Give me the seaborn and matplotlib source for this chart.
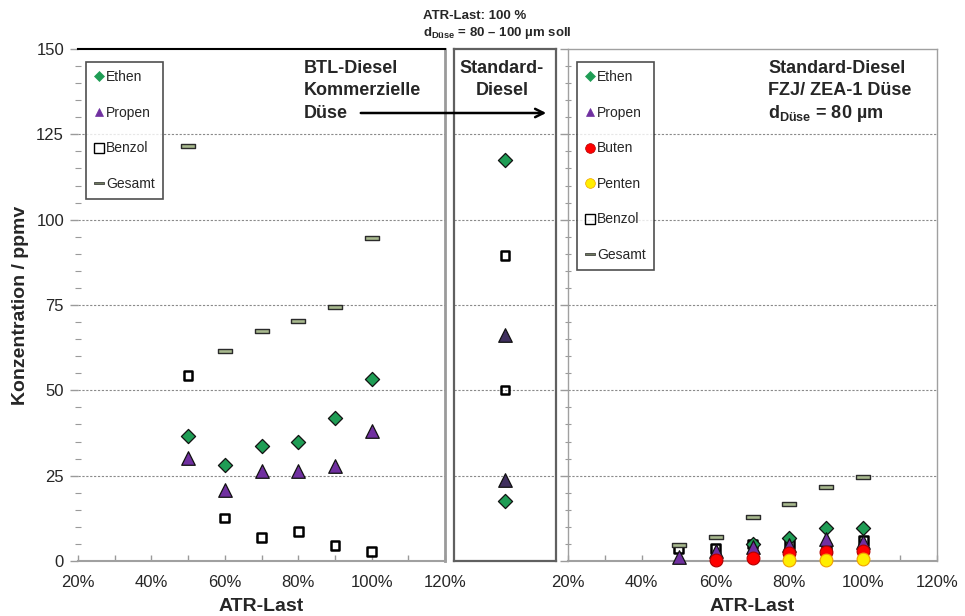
import numpy as np
import pandas as pd
import matplotlib
matplotlib.use("Agg")
import matplotlib.pyplot as plt
import seaborn as sns
from matplotlib.path import Path
from matplotlib.lines import Line2D
from matplotlib.ticker import MultipleLocator, FuncFormatter

sns.set_style("white")
plt.rcParams["font.family"] = ["Liberation Sans", "DejaVu Sans"]
plt.rcParams["mathtext.fontset"] = "custom"
plt.rcParams["mathtext.rm"] = "Liberation Sans"
plt.rcParams["mathtext.bf"] = "Liberation Sans:bold"

# ATR load steps (%)
load = [50, 60, 70, 80, 90, 100]

# BTL diesel, commercial nozzle
btl_ethen = [36.7, 28.0, 33.6, 34.9, 41.9, 53.4]
btl_propen = [30.2, 20.9, 26.5, 26.5, 27.7, 38.0]
btl_benzol = [54.3, 12.6, 6.9, 8.7, 4.5, 2.8]
btl_gesamt = [121.5, 61.5, 67.4, 70.3, 74.5, 94.7]

# Standard diesel at 100 % load, nozzle 80-100 um
std_load = [100, 100]
std_ethen = [117.4, 17.7]
std_propen = [66.2, 23.8]
std_benzol = [89.6, 50.1]

# Standard diesel, FZJ/ZEA-1 nozzle 80 um
fzj_ethen = [np.nan, np.nan, 5.1, 6.8, 9.6, 9.6]
fzj_propen = [1.2, 2.8, 4.1, 4.6, 6.5, 5.5]
fzj_buten = [np.nan, 0.3, 1.0, 2.3, 2.6, 2.9]
fzj_penten = [np.nan, np.nan, np.nan, 0.2, 0.2, 0.5]
fzj_benzol = [3.6, 3.6, 5.0, 5.0, 3.6, 6.0]
fzj_gesamt = [4.8, 7.0, 13.0, 16.7, 21.6, 24.5]

# flat bar marker for the total
bar_marker = Path([(-1, -0.28), (1, -0.28), (1, 0.28), (-1, 0.28), (-1, -0.28)],
                  [Path.MOVETO, Path.LINETO, Path.LINETO, Path.LINETO, Path.CLOSEPOLY])

GREEN = "#1f9d55"
PURPLE = "#7030a0"
STYLE = {
    "Ethen": dict(marker="D", color=GREEN, edgecolor="#111111", s=52, linewidth=0.9),
    "Propen": dict(marker="^", color=PURPLE, edgecolor="#111111", s=95, linewidth=0.9),
    "Buten": dict(marker="o", color="#ff0000", edgecolor="#b00000", s=85, linewidth=0.8),
    "Penten": dict(marker="o", color="#ffee00", edgecolor="#f0a000", s=85, linewidth=0.8),
    "Benzol": dict(marker="s", color="none", edgecolor="#000000", s=40, linewidth=1.8),
    "Gesamt": dict(marker=bar_marker, color="#a8b98e", edgecolor="#2b2b2b", s=105, linewidth=1.0),
}

W, H = 965, 616
fig = plt.figure(figsize=(W / 100, H / 100), dpi=100)


def axes_px(x0, x1, y0, y1):
    return fig.add_axes([x0 / W, 1 - y1 / H, (x1 - x0) / W, (y1 - y0) / H])


ax_l = axes_px(78, 445, 49, 561)
ax_m = axes_px(454, 556, 49, 561)
ax_r = axes_px(568, 937, 49, 561)

GRID = dict(color="#8a8a8a", linewidth=0.8, linestyle=(0, (2, 1.5)))


def draw(ax, x, series, order, styles):
    for name in order:
        st = dict(styles[name])
        col = st.pop("color")
        df = pd.DataFrame({"ATR-Last": x, "ppmv": series[name]}).dropna()
        sns.scatterplot(data=df, x="ATR-Last", y="ppmv", ax=ax, facecolor=col,
                        clip_on=False, zorder=5, legend=False, **st)


def setup(ax, ylabels):
    ax.set_ylim(0, 150)
    ax.set_xlim(20, 120)
    ax.yaxis.set_major_locator(MultipleLocator(25))
    ax.yaxis.set_minor_locator(MultipleLocator(5))
    ax.xaxis.set_major_locator(MultipleLocator(20))
    ax.xaxis.set_minor_locator(MultipleLocator(10))
    ax.xaxis.set_major_formatter(FuncFormatter(lambda v, p: f"{v:.0f}%"))
    ax.tick_params(axis="x", which="both", direction="in", length=4, width=1,
                   color="#9a9a9a", labelsize=12, pad=10, bottom=True)
    ax.tick_params(axis="y", which="major", direction="out", length=6, width=1,
                   color="#9a9a9a", labelsize=12, pad=4, left=True, labelleft=ylabels)
    ax.tick_params(axis="y", which="minor", direction="inout", length=4, width=0.8,
                   color="#9a9a9a", left=True)
    for v in [25, 50, 75, 100, 125]:
        ax.axhline(v, zorder=0, **GRID)
    ax.set_xlabel("ATR-Last", fontsize=14, fontweight="bold", labelpad=6)
    ax.set_ylabel("")


# left: BTL diesel
setup(ax_l, True)
draw(ax_l, load, {"Ethen": btl_ethen, "Propen": btl_propen, "Benzol": btl_benzol,
                  "Gesamt": btl_gesamt}, ["Benzol", "Ethen", "Propen", "Gesamt"], STYLE)
ax_l.spines["left"].set_visible(False)
ax_l.spines["top"].set_color("#000000")
ax_l.spines["top"].set_linewidth(1.5)
ax_l.spines["right"].set_color("#9a9a9a")
ax_l.spines["right"].set_linewidth(2)
ax_l.spines["bottom"].set_color("#a0a0a0")
ax_l.spines["bottom"].set_linewidth(1.5)
ax_l.set_ylabel("Konzentration / ppmv", fontsize=14, fontweight="bold", labelpad=5)

# middle: standard diesel reference points
ax_m.set_ylim(0, 150)
ax_m.set_xlim(86, 114)
for v in [25, 50, 75, 100, 125]:
    ax_m.axhline(v, zorder=0, **GRID)
mid_styles = dict(STYLE)
mid_styles["Propen"] = dict(STYLE["Propen"], color="#3f2f5e")
draw(ax_m, std_load, {"Ethen": std_ethen, "Propen": std_propen, "Benzol": std_benzol},
     ["Benzol", "Ethen", "Propen"], mid_styles)
ax_m.set_xticks([])
ax_m.set_yticks([])
ax_m.set_xlabel("")
ax_m.set_ylabel("")
for sp in ax_m.spines.values():
    sp.set_color("#606060")
    sp.set_linewidth(1.6)

# right: FZJ nozzle
setup(ax_r, False)
draw(ax_r, load, {"Ethen": fzj_ethen, "Propen": fzj_propen, "Buten": fzj_buten,
                  "Penten": fzj_penten, "Benzol": fzj_benzol, "Gesamt": fzj_gesamt},
     ["Benzol", "Ethen", "Propen", "Buten", "Penten", "Gesamt"], STYLE)
for name, sp in ax_r.spines.items():
    sp.set_color("#a0a0a0")
    sp.set_linewidth(1.5 if name == "bottom" else 1.0)


def legend_handles(names):
    hs = []
    for n in names:
        st = STYLE[n]
        ms = {"Ethen": 5, "Propen": 6, "Buten": 7, "Penten": 7, "Benzol": 6.5, "Gesamt": 7}[n]
        hs.append(Line2D([], [], linestyle="none", marker=st["marker"], markersize=ms,
                         markerfacecolor=st["color"] if n != "Gesamt" else "#6f7a5f",
                         markeredgecolor=st["edgecolor"] if n not in ("Ethen", "Propen") else st["color"],
                         markeredgewidth=1.0 if n == "Benzol" else 0.5, label=n))
    return hs


leg_kw = dict(loc="upper left", frameon=True, fancybox=False, fontsize=10,
              handlelength=0.6, handletextpad=0.25, borderpad=0.6,
              labelspacing=1.55, borderaxespad=0)
leg_l = ax_l.legend(handles=legend_handles(["Ethen", "Propen", "Benzol", "Gesamt"]),
                    bbox_to_anchor=(86 / W, 1 - 62 / H), bbox_transform=fig.transFigure, **leg_kw)
leg_r = ax_r.legend(handles=legend_handles(["Ethen", "Propen", "Buten", "Penten", "Benzol", "Gesamt"]),
                    bbox_to_anchor=(577 / W, 1 - 62 / H), bbox_transform=fig.transFigure, **leg_kw)
for leg in (leg_l, leg_r):
    leg.get_frame().set_edgecolor("#222222")
    leg.get_frame().set_linewidth(1.2)


def ftext(x, y, s, **kw):
    fig.text(x / W, 1 - y / H, s, **kw)


ftext(304, 60, "BTL-Diesel\nKommerzielle\nDüse", fontsize=13, fontweight="bold",
      va="top", ha="left", linespacing=1.42)
ftext(502, 60, "Standard-\nDiesel", fontsize=13, fontweight="bold", va="top",
      ha="center", linespacing=1.42)
ftext(768, 60, "Standard-Diesel\nFZJ/ ZEA-1 Düse", fontsize=13, fontweight="bold",
      va="top", ha="left", linespacing=1.42)
ftext(768, 113, r"$\mathbf{d_{Düse}}$ = 80 µm", fontsize=13, fontweight="bold",
      va="center", ha="left")
ftext(423, 16, "ATR-Last: 100 %", fontsize=9.5, fontweight="bold", va="center", ha="left")
ftext(423, 33, r"$\mathbf{d_{Düse}}$ = 80 – 100 µm soll", fontsize=9.5, fontweight="bold",
      va="center", ha="left")

fig.add_artist(matplotlib.patches.FancyArrowPatch(
    (358 / W, 1 - 113 / H), (549 / W, 1 - 113 / H), transform=fig.transFigure,
    arrowstyle="->,head_length=6,head_width=3", color="#000000", linewidth=1.8))

fig.savefig("out.png", dpi=100)
